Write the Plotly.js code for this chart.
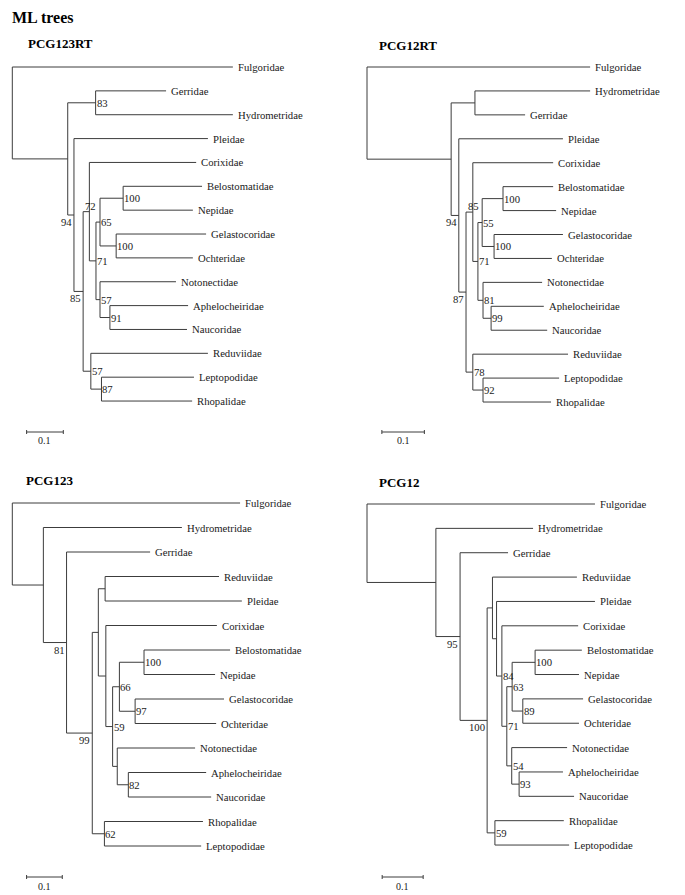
<!DOCTYPE html>
<html><head><meta charset="utf-8">
<script src="https://cdn.plot.ly/plotly-3.0.1.min.js"></script>
<style>html,body{margin:0;padding:0;background:#fff}#chart{width:685px;height:895px}</style>
</head><body><div id="chart"></div>
<script>
// ---------- Panel 1: PCG123RT ----------
const p1Title = 'PCG123RT';
const p1Tips = ['Fulgoridae','Gerridae','Hydrometridae','Pleidae','Corixidae','Belostomatidae','Nepidae','Gelastocoridae','Ochteridae','Notonectidae','Aphelocheiridae','Naucoridae','Reduviidae','Leptopodidae','Rhopalidae'];
const p1TipDepth = [0.601,0.419,0.601,0.533,0.501,0.517,0.492,0.528,0.492,0.446,0.479,0.476,0.533,0.495,0.490];
const p1NodeIds = ['root','a','gh','n94','n85','n72','n71','n65','bn','go','n57','an','rd','lr'];
const p1NodeKids = [['Fulgoridae','a'],['gh','n94'],['Gerridae','Hydrometridae'],['Pleidae','n85'],['n72','rd'],['Corixidae','n71'],['n65','n57'],['bn','go'],['Belostomatidae','Nepidae'],['Gelastocoridae','Ochteridae'],['Notonectidae','an'],['Aphelocheiridae','Naucoridae'],['Reduviidae','lr'],['Leptopodidae','Rhopalidae']];
const p1NodeDepth = [0,0.151,0.227,0.168,0.193,0.210,0.228,0.239,0.302,0.283,0.239,0.266,0.214,0.243];
const p1Support = [null,null,83,94,85,72,71,65,100,100,57,91,57,87];

// ---------- Panel 2: PCG12RT ----------
const p2Title = 'PCG12RT';
const p2Tips = ['Fulgoridae','Hydrometridae','Gerridae','Pleidae','Corixidae','Belostomatidae','Nepidae','Gelastocoridae','Ochteridae','Notonectidae','Aphelocheiridae','Naucoridae','Reduviidae','Leptopodidae','Rhopalidae'];
const p2TipDepth = [0.525,0.525,0.372,0.461,0.438,0.438,0.445,0.461,0.435,0.412,0.416,0.424,0.473,0.452,0.433];
const p2NodeIds = ['root','a','hg','n94','n87','n85','n71','n55','bn','go','n81','an','rd','lr'];
const p2NodeKids = [['Fulgoridae','a'],['hg','n94'],['Hydrometridae','Gerridae'],['Pleidae','n87'],['n85','rd'],['Corixidae','n71'],['n55','n81'],['bn','go'],['Belostomatidae','Nepidae'],['Gelastocoridae','Ochteridae'],['Notonectidae','an'],['Aphelocheiridae','Naucoridae'],['Reduviidae','lr'],['Leptopodidae','Rhopalidae']];
const p2NodeDepth = [0,0.198,0.254,0.216,0.233,0.249,0.261,0.271,0.320,0.299,0.273,0.292,0.249,0.273];
const p2Support = [null,null,null,94,87,85,71,55,100,100,81,99,78,92];

// ---------- Panel 3: PCG123 ----------
const p3Title = 'PCG123';
const p3Tips = ['Fulgoridae','Hydrometridae','Gerridae','Reduviidae','Pleidae','Corixidae','Belostomatidae','Nepidae','Gelastocoridae','Ochteridae','Notonectidae','Aphelocheiridae','Naucoridae','Rhopalidae','Leptopodidae'];
const p3TipDepth = [0.638,0.475,0.386,0.579,0.643,0.573,0.610,0.568,0.593,0.571,0.512,0.543,0.557,0.534,0.529];
const p3NodeIds = ['root','a','n81','n99','x','rp','y','n59','n66','bn','go','nt','an','n62'];
const p3NodeKids = [['Fulgoridae','a'],['Hydrometridae','n81'],['Gerridae','n99'],['x','n62'],['rp','y'],['Reduviidae','Pleidae'],['Corixidae','n59'],['n66','nt'],['bn','go'],['Belostomatidae','Nepidae'],['Gelastocoridae','Ochteridae'],['Notonectidae','an'],['Aphelocheiridae','Naucoridae'],['Rhopalidae','Leptopodidae']];
const p3NodeDepth = [0,0.087,0.152,0.224,0.241,0.260,0.262,0.281,0.300,0.369,0.344,0.294,0.325,0.258];
const p3Support = [null,null,81,99,null,null,null,59,66,100,97,null,82,62];

// ---------- Panel 4: PCG12 ----------
const p4Title = 'PCG12';
const p4Tips = ['Fulgoridae','Hydrometridae','Gerridae','Reduviidae','Pleidae','Corixidae','Belostomatidae','Nepidae','Gelastocoridae','Ochteridae','Notonectidae','Aphelocheiridae','Naucoridae','Rhopalidae','Leptopodidae'];
const p4TipDepth = [0.556,0.405,0.344,0.512,0.556,0.515,0.524,0.517,0.527,0.517,0.488,0.478,0.505,0.480,0.493];
const p4NodeIds = ['root','a','n95','n100','x','n84','y','n71','n63','bn','go','n54','an','n59'];
const p4NodeKids = [['Fulgoridae','a'],['Hydrometridae','n95'],['Gerridae','n100'],['x','n59'],['Reduviidae','n84'],['Pleidae','y'],['Corixidae','n71'],['n63','n54'],['bn','go'],['Belostomatidae','Nepidae'],['Gelastocoridae','Ochteridae'],['Notonectidae','an'],['Aphelocheiridae','Naucoridae'],['Rhopalidae','Leptopodidae']];
const p4NodeDepth = [0,0.168,0.227,0.293,0.306,0.316,0.329,0.341,0.354,0.410,0.380,0.353,0.371,0.312];
const p4Support = [null,null,95,100,null,null,84,71,63,100,89,54,93,59];

const scaleBarLength = 0.1;
const scaleBarLabel = '0.1';
const figureTitle = 'ML trees';

// ---------- layout / style (pixels) ----------
const W = 685, H = 895;
const SERIF = '"Liberation Serif", "Times New Roman", serif';
const LINE = '#3c3c3c';
const TXT = 10.7;
const panels = [
  {title:p1Title, tips:p1Tips, tipDepth:p1TipDepth, ids:p1NodeIds, kids:p1NodeKids, depth:p1NodeDepth, support:p1Support,
   labelPos:['','','r','lb','lb','a','r','r','r','r','r','r','r','r'],
   box:[0,340,30,450], rootPx:12.3, ppu:367, y0:67, dy:23.86, barStart:0.039, titlePx:[25.5,44]},
  {title:p2Title, tips:p2Tips, tipDepth:p2TipDepth, ids:p2NodeIds, kids:p2NodeKids, depth:p2NodeDepth, support:p2Support,
   labelPos:['','','','lb','lb','a','r','r','r','r','r','r','r','r'],
   box:[340,685,30,450], rootPx:367, ppu:425, y0:67, dy:23.93, barStart:0.035, titlePx:[376.5,45]},
  {title:p3Title, tips:p3Tips, tipDepth:p3TipDepth, ids:p3NodeIds, kids:p3NodeKids, depth:p3NodeDepth, support:p3Support,
   labelPos:['','','lb','lb','','','','r','r','r','r','','r','r'],
   box:[0,340,455,895], rootPx:12.3, ppu:357, y0:503, dy:24.5, barStart:0.040, titlePx:[24,480]},
  {title:p4Title, tips:p4Tips, tipDepth:p4TipDepth, ids:p4NodeIds, kids:p4NodeKids, depth:p4NodeDepth, support:p4Support,
   labelPos:['','','lb','lb','','','r','r','r','r','r','r','r','r'],
   box:[340,685,455,895], rootPx:367, ppu:410, y0:504, dy:24.36, barStart:0.037, titlePx:[376.5,482]}
];

const traces = [];
const annotations = [];
const layout = {
  width: W, height: H, margin:{l:0,r:0,t:0,b:0}, showlegend:false,
  paper_bgcolor:'#fff', plot_bgcolor:'rgba(0,0,0,0)', hovermode:false
};

annotations.push({xref:'paper', yref:'paper', x:10/W, y:1-17/H, xanchor:'left', yanchor:'middle',
  text:'<b>'+figureTitle+'</b>', showarrow:false, font:{family:SERIF, size:16, color:'#000'}});

panels.forEach((P, i) => {
  const n = i + 1;
  const xa = n === 1 ? 'x' : 'x' + n, ya = n === 1 ? 'y' : 'y' + n;
  const [L, R, T, B] = P.box;
  layout[n === 1 ? 'xaxis' : 'xaxis' + n] = {
    domain:[L/W, R/W], range:[(L - P.rootPx)/P.ppu, (R - P.rootPx)/P.ppu],
    visible:false, fixedrange:true, anchor:ya
  };
  layout[n === 1 ? 'yaxis' : 'yaxis' + n] = {
    domain:[1 - B/H, 1 - T/H], range:[(B - P.y0)/P.dy, (T - P.y0)/P.dy],
    visible:false, fixedrange:true, anchor:xa
  };

  const depthOf = {}, yOf = {};
  P.tips.forEach((t, k) => { depthOf[t] = P.tipDepth[k]; yOf[t] = k; });
  P.ids.forEach((id, k) => { depthOf[id] = P.depth[k]; });
  const kidsOf = {}; P.ids.forEach((id, k) => { kidsOf[id] = P.kids[k]; });
  function getY(name) {
    if (yOf[name] !== undefined) return yOf[name];
    const ys = kidsOf[name].map(getY);
    yOf[name] = (Math.min(...ys) + Math.max(...ys)) / 2;
    return yOf[name];
  }
  P.ids.forEach(getY);

  const xs = [], ys = [];
  P.ids.forEach((id, k) => {
    const d = depthOf[id];
    const kys = P.kids[k].map(c => yOf[c]);
    xs.push(d, d, null); ys.push(Math.min(...kys), Math.max(...kys), null);
    P.kids[k].forEach(c => { xs.push(d, depthOf[c], null); ys.push(yOf[c], yOf[c], null); });
  });
  const barY = (P.box[3] - 18 - P.y0) / P.dy;
  const tk = 2 / P.dy;
  const b0 = P.barStart, b1 = P.barStart + scaleBarLength;
  xs.push(b0, b1, null, b0, b0, null, b1, b1, null);
  ys.push(barY, barY, null, barY - tk, barY + tk, null, barY - tk, barY + tk, null);

  traces.push({type:'scatter', mode:'lines', x:xs, y:ys, xaxis:xa, yaxis:ya,
    line:{color:LINE, width:1}, hoverinfo:'skip', cliponaxis:false});

  P.tips.forEach((t, k) => {
    annotations.push({xref:xa, yref:ya, x:P.tipDepth[k], y:k, xanchor:'left', yanchor:'middle',
      xshift:3, text:t, showarrow:false, font:{family:SERIF, size:TXT, color:'#1a1a1a'}});
  });
  P.ids.forEach((id, k) => {
    const s = P.support[k];
    if (s === null || s === undefined) return;
    const pos = P.labelPos[k];
    const a = {xref:xa, yref:ya, x:depthOf[id], y:yOf[id], text:String(s), showarrow:false,
      font:{family:SERIF, size:TXT, color:'#1a1a1a'}, yanchor:'middle'};
    if (pos === 'lb') { a.xanchor = 'right'; a.xshift = 0; a.yshift = -7; }
    else if (pos === 'a') { a.xanchor = 'center'; a.xshift = 1; a.yshift = 6; }
    else { a.xanchor = 'left'; a.xshift = -1; a.yshift = 0; }
    annotations.push(a);
  });
  annotations.push({xref:xa, yref:ya, x:(b0 + b1)/2, y:barY, yshift:-9, xanchor:'center', yanchor:'middle',
    text:scaleBarLabel, showarrow:false, font:{family:SERIF, size:10, color:'#1a1a1a'}});
  annotations.push({xref:'paper', yref:'paper', x:P.titlePx[0]/W, y:1 - P.titlePx[1]/H, xanchor:'left', yanchor:'middle',
    text:'<b>'+P.title+'</b>', showarrow:false, font:{family:SERIF, size:13, color:'#000'}});
});

layout.annotations = annotations;
Plotly.newPlot('chart', traces, layout, {staticPlot:true, displayModeBar:false});
</script>
</body></html>
